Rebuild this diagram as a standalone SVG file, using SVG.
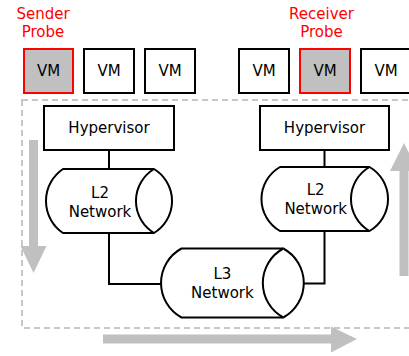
<svg xmlns="http://www.w3.org/2000/svg" width="409" height="356" viewBox="0 0 409 356">
<style>
text{font-family:"DejaVu Sans","Liberation Sans",sans-serif;font-size:15px;text-anchor:middle;fill:#000}
.probe{fill:#ff0000}
.box{fill:#fff;stroke:#000;stroke-width:2}
.probebox{fill:#c0c0c0;stroke:#ff0000;stroke-width:2}
.net{fill:#fff;stroke:#000;stroke-width:2;stroke-linejoin:round}
.conn{fill:none;stroke:#000;stroke-width:2}
.flow{fill:#c0c0c0}
</style>
<rect id="host-boundary" x="22" y="100" width="400" height="228" fill="none" stroke="#c8c8c8" stroke-width="2" stroke-dasharray="6 4"/>
<g id="flow-arrows">
<polygon class="flow" points="29,140 38,140 38,246 46.5,246 33.5,273 20.5,246 29,246"/>
<polygon class="flow" points="103,334.5 331,334.5 331,326.5 357,339 331,352.5 331,343.5 103,343.5"/>
<polygon class="flow" points="399.5,276 408.5,276 408.5,171 418,171 404,143 390,171 399.5,171"/>
</g>
<g id="labels">
<text class="probe" x="43" y="18.5">Sender</text>
<text class="probe" x="43" y="36.5">Probe</text>
<text class="probe" x="321.5" y="18.5">Receiver</text>
<text class="probe" x="321.5" y="36.5">Probe</text>
</g>
<g id="vm1"><rect class="probebox" x="24" y="49" width="49" height="44"/><text x="48.5" y="76">VM</text></g>
<g id="vm2"><rect class="box" x="84" y="49" width="50" height="44"/><text x="109" y="76">VM</text></g>
<g id="vm3"><rect class="box" x="145" y="49" width="50" height="44"/><text x="170" y="76">VM</text></g>
<g id="vm4"><rect class="box" x="239" y="49" width="50" height="44"/><text x="264" y="76">VM</text></g>
<g id="vm5"><rect class="probebox" x="300" y="49" width="50" height="44"/><text x="325" y="76">VM</text></g>
<g id="vm6"><rect class="box" x="361" y="49" width="50" height="44"/><text x="386" y="76">VM</text></g>
<g id="hypervisor-left"><rect class="box" x="44" y="106" width="130" height="44"/><text x="109" y="132.5">Hypervisor</text></g>
<g id="hypervisor-right"><rect class="box" x="260" y="106" width="129" height="44"/><text x="324.5" y="132.5">Hypervisor</text></g>
<g id="connectors">
<path class="conn" d="M109,150 V169"/>
<path class="conn" d="M109,233 V284 H161"/>
<path class="conn" d="M324.5,150 V167"/>
<path class="conn" d="M324.5,231 V283.5 H304"/>
</g>
<g id="l2-left">
<path class="net" d="M63,169 H154 A37.4,37.4 0 0 1 154,233 H63 A38.6,38.6 0 0 1 63,169 Z"/>
<path class="net" d="M154,169 A37.4,37.4 0 0 0 154,233"/>
<text x="100" y="197.5">L2</text>
<text x="100" y="216.5">Network</text>
</g>
<g id="l2-right">
<path class="net" d="M280,167 H369.5 A36.9,36.9 0 0 1 369.5,231 H280 A36.9,36.9 0 0 1 280,167 Z"/>
<path class="net" d="M369.5,167 A36.9,36.9 0 0 0 369.5,231"/>
<text x="315.7" y="195.2">L2</text>
<text x="315.7" y="214.2">Network</text>
</g>
<g id="l3">
<path class="net" d="M181.5,248.5 H283.3 A39.3,39.3 0 0 1 283.3,317.5 H181.5 A39.3,39.3 0 0 1 181.5,248.5 Z"/>
<path class="net" d="M283.3,248.5 A39.3,39.3 0 0 0 283.3,317.5"/>
<text x="222.4" y="278.5">L3</text>
<text x="222.4" y="297.5">Network</text>
</g>
</svg>
